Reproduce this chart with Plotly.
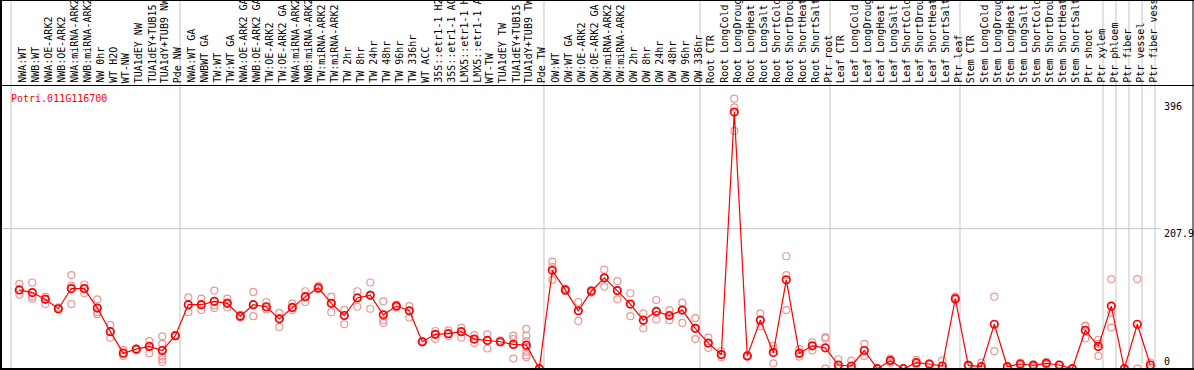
import plotly.graph_objects as go

labels = [
    "NWA:WT", "NWB:WT", "NWA:OE-ARK2", "NWB:OE-ARK2", "NWA:miRNA-ARK2", "NWB:miRNA-ARK2",
    "NW 0hr", "WT H2O", "WT-NW", "TUA1dEY NW", "TUA1dEY+TUB15", "TUA1dY+TUB9 NW", "Pde NW",
    "NWA:WT GA", "NWBWT GA", "TW:WT", "TW:WT GA", "NWA:OE-ARK2 GA", "NWB:OE-ARK2 GA",
    "TW:OE-ARK2", "TW:OE-ARK2 GA", "NWA:miRNA-ARK2", "NWB:miRNA-ARK2", "TW:miRNA-ARK2",
    "TW:miRNA-ARK2", "TW 2hr", "TW 8hr", "TW 24hr", "TW 48hr", "TW 96hr", "TW 336hr",
    "WT ACC", "35S::etr1-1 H2O", "35S::etr1-1 ACC", "LMX5::etr1-1 H2O", "LMX5::etr1-1 ACC",
    "WT-TW", "TUA1dEY TW", "TUA1dEY+TUB15", "TUA1dY+TUB9 TW", "Pde TW",
    "OW:WT", "OW:WT GA", "OW:OE-ARK2", "OW:OE-ARK2 GA", "OW:miRNA-ARK2", "OW:miRNA-ARK2",
    "OW 2hr", "OW 8hr", "OW 24hr", "OW 48hr", "OW 96hr", "OW 336hr",
    "Root CTR", "Root LongCold", "Root LongDrought", "Root LongHeat", "Root LongSalt",
    "Root ShortCold", "Root ShortDrought", "Root ShortHeat", "Root ShortSalt", "Ptr root",
    "Leaf CTR", "Leaf LongCold", "Leaf LongDrought", "Leaf LongHeat", "Leaf LongSalt",
    "Leaf ShortCold", "Leaf ShortDrought", "Leaf ShortHeat", "Leaf ShortSalt", "Ptr leaf",
    "Stem CTR", "Stem LongCold", "Stem LongDrought", "Stem LongHeat", "Stem LongSalt",
    "Stem ShortCold", "Stem ShortDrought", "Stem ShortHeat", "Stem ShortSalt", "Ptr shoot",
    "Ptr xylem", "Ptr phloem", "Ptr fiber", "Ptr vessel", "Ptr fiber vessel",
]

means = [
    117, 113, 103, 89, 119, 119, 90, 55, 23, 29, 33, 27, 49,
    95, 95, 100, 97, 78, 95, 92, 74, 91, 107, 120, 97, 79, 105, 109, 80, 93, 86,
    40, 51, 52, 55, 44, 42, 40, 36, 35, 0,
    146, 117, 86, 115, 135, 116, 96, 72, 85, 79, 87, 60,
    38, 21, 381, 19, 72, 24, 132, 23, 34, 31,
    5.5, 4, 27, 0, 12, 0, 9, 7, 4, 104,
    5, 3, 66, 3, 7, 5, 8, 5.5, 0, 57, 33,
    93, 0, 66, 5.5,
]

replicates = [
    [126, 117, 110], [128, 107, 104], [107, 104, 96], [91, 89, 88], [139, 123, 96],
    [125, 119, 112], [103, 84, 81], [65, 55, 46], [28, 23, 19], [30, 29, 28],
    [41, 34, 23], [48, 37, 28, 18, 14, 10], [50, 49, 48],
    [106, 95, 84], [104, 95, 87], [116, 94, 90], [104, 98, 91], [80, 78, 76],
    [114, 95, 78], [99, 91, 88], [83, 74, 62], [97, 90, 87], [115, 107, 99],
    [123, 120, 118], [107, 97, 84], [87, 79, 66], [115, 106, 92], [128, 110, 89],
    [100, 72, 68], [95, 93, 91], [93, 86, 76], [41, 40, 39], [56, 51, 44],
    [57, 52, 48], [61, 55, 46], [50, 44, 38], [51, 42, 30], [42, 40, 39],
    [49, 44, 36, 15], [59, 49, 41, 32, 25, 20, 17], [0, 0, 0],
    [159, 151, 132], [119, 117, 115], [99, 86, 71], [117, 115, 113], [147, 135, 122],
    [130, 116, 103], [112, 96, 78], [82, 72, 60], [102, 85, 73], [87, 79, 72],
    [98, 87, 68], [75, 60, 44],
    [46, 38, 31], [26, 21, 17], [401, 388, 353], [20, 19, 18], [82, 72, 63],
    [34, 29, 8], [167, 139, 87], [29, 22, 18], [39, 34, 27], [47, 45, 0],
    [14, 2, 0], [12, 0, 0], [37, 27, 19], [0, 0, 0], [15, 12, 9],
    [0, 0, 0], [13, 9, 6], [8, 7, 6], [12, 0, 0], [107, 104, 102],
    [6, 5, 4], [9, 0, 0], [107, 26], [4, 3, 2], [9, 7, 5],
    [7, 5, 3], [10, 8, 6], [6, 5.5, 5], [0, 0, 0], [64, 63, 45], [43, 37, 19],
    [133, 83, 61], [0, 0], [133, 0], [9, 2],
]

group_starts = [0, 13, 41, 53, 63, 73, 84, 85, 86, 87, 88]
y_ticks = [396, 207.9, 0]
y_tick_labels = ["396", "207.9", "0"]
gene = "Potri.011G116700"

W, H = 1194, 370
FONT = "DejaVu Sans Mono"

xs = list(range(len(labels)))
rep_x, rep_y = [], []
for i, reps in enumerate(replicates):
    for v in reps:
        rep_x.append(i)
        rep_y.append(v)

fig = go.Figure()
fig.add_trace(go.Scatter(
    x=rep_x, y=rep_y, mode="markers",
    marker=dict(symbol="circle-open", size=7, color="#ee9696", line=dict(width=1.2, color="#ee9696")),
    hoverinfo="skip", showlegend=False, cliponaxis=False,
))
fig.add_trace(go.Scatter(
    x=xs, y=means, mode="lines+markers",
    line=dict(color="#ff0000", width=1.2),
    marker=dict(symbol="circle-open", size=7.5, color="#ff0000", line=dict(width=1.7, color="#ff0000")),
    showlegend=False, cliponaxis=False,
))

def py(pix):
    return 1 - pix / H

shapes = []
for b in group_starts:
    shapes.append(dict(type="line", xref="x", yref="paper", x0=b - 0.64, x1=b - 0.64,
                       y0=py(369), y1=1, line=dict(color="#c4c4c4", width=1), layer="below"))
shapes.append(dict(type="line", xref="paper", yref="y", x0=0, x1=1161 / W, y0=207.9, y1=207.9,
                   line=dict(color="#c4c4c4", width=1), layer="below"))
shapes += [
    dict(type="line", xref="paper", yref="paper", x0=1 / W, x1=1 / W, y0=0, y1=1, line=dict(color="black", width=2)),
    dict(type="line", xref="paper", yref="paper", x0=1193 / W, x1=1193 / W, y0=py(369), y1=1, line=dict(color="black", width=1)),
    dict(type="line", xref="paper", yref="paper", x0=0, x1=1, y0=py(369), y1=py(369), line=dict(color="black", width=2)),
    dict(type="line", xref="paper", yref="paper", x0=0, x1=1, y0=py(0.5), y1=py(0.5), line=dict(color="black", width=1)),
    dict(type="line", xref="paper", yref="paper", x0=0, x1=1, y0=py(85.5), y1=py(85.5), line=dict(color="black", width=1)),
]

annotations = []
for i, lab in enumerate(labels):
    annotations.append(dict(x=i, xref="x", y=py(84), yref="paper", text=lab, textangle=-90,
                            showarrow=False, xanchor="center", yanchor="bottom", xshift=2.5,
                            font=dict(family=FONT, size=10, color="black"), borderpad=0))
annotations.append(dict(x=9 / W, xref="paper", y=py(91), yref="paper", text=gene, showarrow=False,
                        xanchor="left", yanchor="top", font=dict(family=FONT, size=10, color="#ff0000")))
shifts = [-5, -4.5, 7]
for v, t, s in zip(y_ticks, y_tick_labels, shifts):
    annotations.append(dict(x=1162 / W, xref="paper", y=v, yref="y", yshift=s, text=t, showarrow=False,
                            xanchor="left", yanchor="middle", font=dict(family=FONT, size=10, color="black")))

x0 = -19.3 / 13
x1 = x0 + W / 13
y0 = (368.7 - H) / 0.6735
y1 = 368.7 / 0.6735

fig.update_layout(
    width=W, height=H, margin=dict(l=0, r=0, t=0, b=0),
    paper_bgcolor="white", plot_bgcolor="white",
    xaxis=dict(range=[x0, x1], visible=False, showgrid=False, zeroline=False),
    yaxis=dict(range=[y0, y1], visible=False, showgrid=False, zeroline=False),
    shapes=shapes, annotations=annotations,
)

fig.write_html("out.html", config={"displayModeBar": False},
               post_script="document.body.style.margin='0';document.body.style.overflow='hidden';")
